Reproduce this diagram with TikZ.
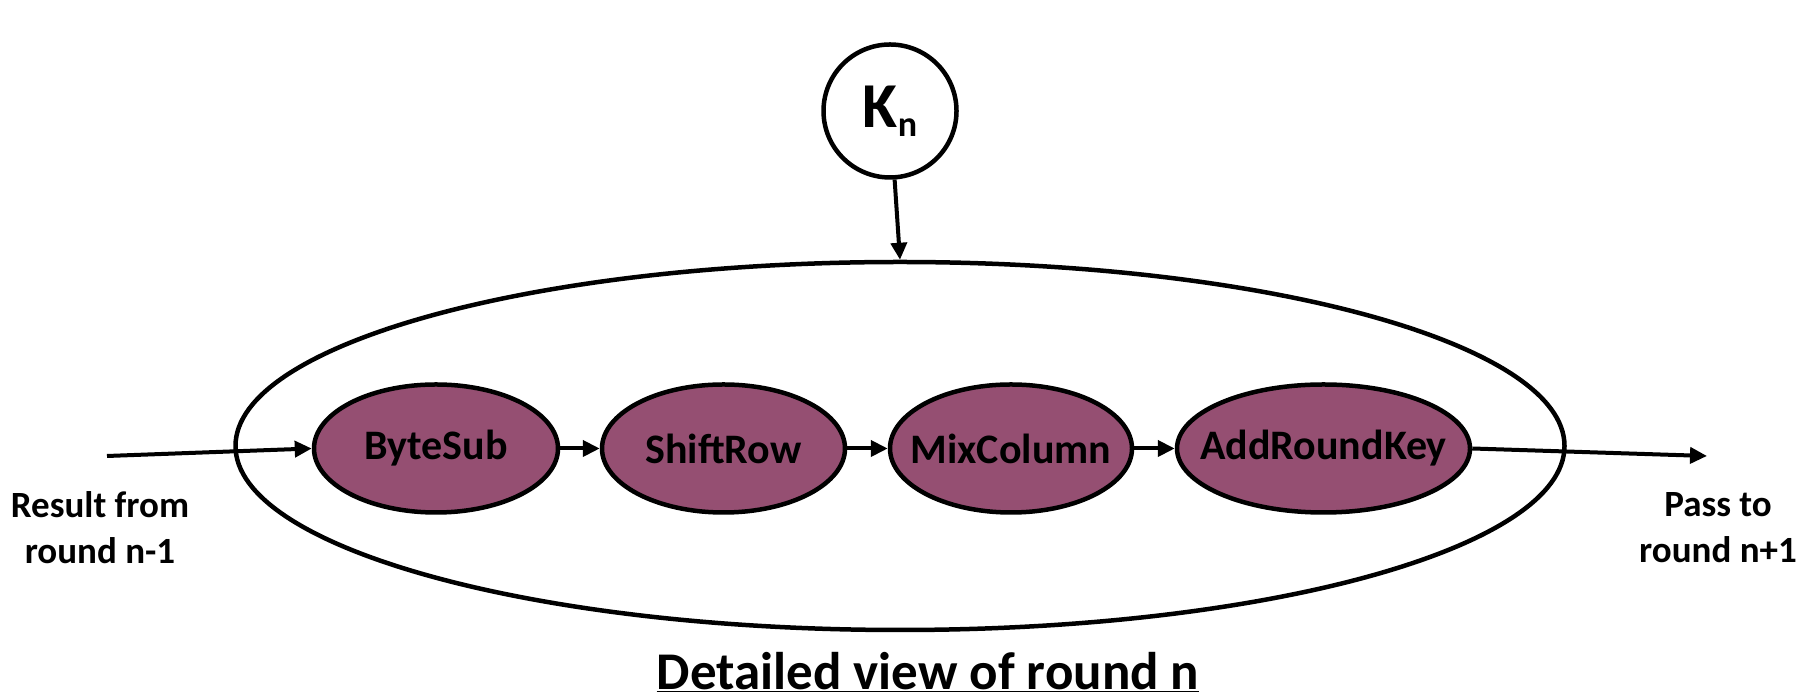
\documentclass[tikz,border=0pt]{standalone}
\usepackage{fontspec}
\setmainfont{Carlito}
\usetikzlibrary{shapes.geometric,arrows.meta,positioning}
\definecolor{roundplum}{RGB}{149,79,114}

\begin{document}
\begin{tikzpicture}[x=1pt, y=1pt, line width=4.5pt,
    stage/.style={ellipse, draw, fill=roundplum, inner sep=0pt, minimum height=128pt, label={[stagetext]center:#1}},
    stagetext/.style={font=\fontsize{42}{48}\selectfont\bfseries},
    flow/.style={line width=4pt, -{Triangle[length=17pt,width=16pt]}},
    caption/.style={align=center, font=\fontsize{37}{46}\selectfont\bfseries}]
    \useasboundingbox (0,0) rectangle (1801,700);
    % the round as a whole
    \node [ellipse, draw, minimum width=1329pt, minimum height=368pt, inner sep=0pt] (round) at (900,254) {};
    \node [circle, draw, minimum size=133pt, inner sep=0pt, font=\fontsize{64}{64}\selectfont\bfseries] (key) at (890,589) {K\raisebox{-0.3ex}{\fontsize{36}{36}\selectfont n}};
    % the four steps
    \node [stage=ByteSub, minimum width=244pt] (bytesub) at (436,251.5) {};
    \node [stage=ShiftRow, minimum width=243pt] (shiftrow) at (723.5,251.5) {};
    \node [stage=MixColumn, minimum width=242pt] (mixcolumn) at (1011,251.5) {};
    \node [stage=AddRoundKey, minimum width=293pt] (addroundkey) at (1323.5,251.5) {};
    \coordinate (in) at (107,244);
    \coordinate (out) at (1707,244);
    \node [caption] (result) at (100,172) {Result from\\round n-1};
    \node [caption] (pass) at (1718,172) {Pass to\\round n+1};
    \node [font=\fontsize{53}{60}\selectfont\bfseries] (title) at (928,28) {\underline{Detailed view of round n}};
    \draw[flow] (key) -- (round.north);
    \draw[flow] (in) -- (bytesub.west);
    \draw[flow] (bytesub) -- (shiftrow);
    \draw[flow] (shiftrow) -- (mixcolumn);
    \draw[flow] (mixcolumn) -- (addroundkey);
    \draw[flow] (addroundkey.east) -- (out);
\end{tikzpicture}
\end{document}
